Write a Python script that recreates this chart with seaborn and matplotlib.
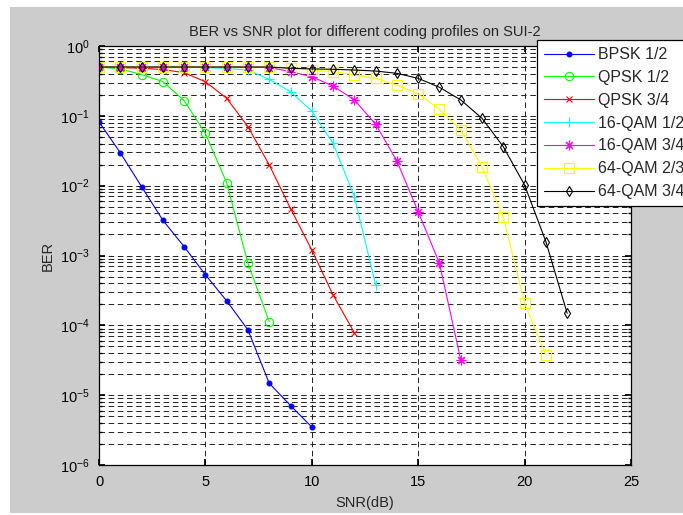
import matplotlib
matplotlib.use("Agg")
import matplotlib.pyplot as plt
import matplotlib.ticker as mticker
from matplotlib.patches import Rectangle
import pandas as pd
import seaborn as sns

# BER values, one list per coding profile
profiles = ['BPSK 1/2', 'QPSK 1/2', 'QPSK 3/4', '16-QAM 1/2',
            '16-QAM 3/4', '64-QAM 2/3', '64-QAM 3/4']

ber_bpsk_12 = [0.082, 0.0296, 0.0097, 0.0032, 0.00134, 0.00053, 0.000224,
               8.6e-5, 1.48e-5, 7.1e-6, 3.5e-6]
ber_qpsk_12 = [0.5, 0.47, 0.39, 0.31, 0.165, 0.056, 0.011, 0.00077, 0.000113]
ber_qpsk_34 = [0.5, 0.49, 0.48, 0.46, 0.415, 0.308, 0.178, 0.070, 0.0198,
               0.0047, 0.0012, 0.000272, 7.85e-5]
ber_16qam_12 = [0.5, 0.5, 0.5, 0.5, 0.5, 0.49, 0.48, 0.45, 0.333, 0.222,
                0.117, 0.0404, 0.00695, 0.00038]
ber_16qam_34 = [0.5, 0.5, 0.5, 0.5, 0.5, 0.5, 0.5, 0.5, 0.49, 0.43, 0.363,
                0.267, 0.169, 0.0758, 0.0225, 0.00424, 0.00077, 3.2e-5]
ber_64qam_23 = [0.5, 0.5, 0.5, 0.5, 0.5, 0.5, 0.5, 0.5, 0.5, 0.48, 0.45,
                0.43, 0.385, 0.344, 0.277, 0.206, 0.124, 0.0627, 0.0187,
                0.00352, 0.000207, 3.76e-5]
ber_64qam_34 = [0.5, 0.5, 0.5, 0.5, 0.5, 0.5, 0.5, 0.5, 0.5, 0.48, 0.47,
                0.464, 0.453, 0.438, 0.406, 0.344, 0.256, 0.169, 0.092,
                0.0361, 0.0102, 0.00158, 0.000149]

ber_lists = [ber_bpsk_12, ber_qpsk_12, ber_qpsk_34, ber_16qam_12,
             ber_16qam_34, ber_64qam_23, ber_64qam_34]

# matlab-like line specs: b.-  go-  rx-  c+-  m*-  ys-  kd-
colors = ['#0000ff', '#00ff00', '#ff0000', '#00ffff', '#ff00ff', '#ffff00', '#000000']
markers = ['.', 'o', 'x', '+', (8, 2, 0), 's', 'd']
filled = [True, False, False, False, False, False, False]
msizes = [7, 6, 4.5, 7.5, 7, 7, 5.6]

rows = []
for name, bers in zip(profiles, ber_lists):
    for snr, ber in enumerate(bers):
        rows.append({'SNR': snr, 'BER': ber, 'Profile': name})
df = pd.DataFrame(rows)

sns.set_theme(style='ticks')
plt.rcParams['font.family'] = ['Liberation Sans', 'DejaVu Sans']
plt.rcParams['axes.unicode_minus'] = False
plt.rcParams['lines.scale_dashes'] = False

W, H = 683, 515
fig = plt.figure(figsize=(W / 100, H / 100), dpi=100)
fig.patch.set_facecolor('white')
fig.patches.append(Rectangle((10 / W, 2 / H), 1 - 10 / W, 1 - 9 / H,
                             transform=fig.transFigure, facecolor='#cccccc',
                             edgecolor='none', zorder=-10))

ax = fig.add_axes([99 / W, 1 - 465 / H, 532 / W, 419 / H])
ax.set_facecolor('white')

for name, col, mk, fl, ms in zip(profiles, colors, markers, filled, msizes):
    sub = df[df['Profile'] == name]
    sns.lineplot(data=sub, x='SNR', y='BER', ax=ax, color=col, marker=mk,
                 markersize=ms, markeredgecolor=col,
                 markerfacecolor=col if fl else 'none', markeredgewidth=0.8,
                 linewidth=0.8, errorbar=None, label=name, legend=False)

ax.set_yscale('log')
ax.set_xlim(0, 25)
ax.set_ylim(1e-6, 1)
ax.set_xticks([0, 5, 10, 15, 20, 25])
ax.yaxis.set_major_locator(mticker.LogLocator(base=10, numticks=10))
ax.yaxis.set_minor_locator(mticker.LogLocator(base=10, subs=range(2, 10), numticks=20))
ax.yaxis.set_minor_formatter(mticker.NullFormatter())

grid_kw = dict(color='#222222', linestyle=(0, (4.0, 2.6)), linewidth=0.7)
ax.grid(True, which='major', axis='both', **grid_kw)
ax.grid(True, which='minor', axis='y', **grid_kw)
ax.set_axisbelow(True)

for sp in ax.spines.values():
    sp.set_color('#000000')
    sp.set_linewidth(0.9)
ax.tick_params(which='both', direction='in', top=True, right=True,
               colors='#000000', labelsize=10.5, pad=7)
ax.tick_params(which='major', length=4)
ax.tick_params(which='minor', length=2.5)

ax.set_title('BER vs SNR plot for different coding profiles on SUI-2',
             fontsize=10.5, pad=7)
ax.set_xlabel('SNR(dB)', fontsize=10.5, labelpad=5)
ax.set_ylabel('BER', fontsize=10.5, labelpad=3.5)

leg = ax.legend(loc='upper left', bbox_to_anchor=(537 / W, 1 - 40 / H),
                bbox_transform=fig.transFigure, frameon=True, fancybox=False,
                edgecolor='#000000', framealpha=1, borderaxespad=0,
                handlelength=3.1, handletextpad=0.3, labelspacing=0.49,
                borderpad=0.45, fontsize=11.5)
leg.get_frame().set_linewidth(0.9)

fig.savefig('out.png', dpi=100)
